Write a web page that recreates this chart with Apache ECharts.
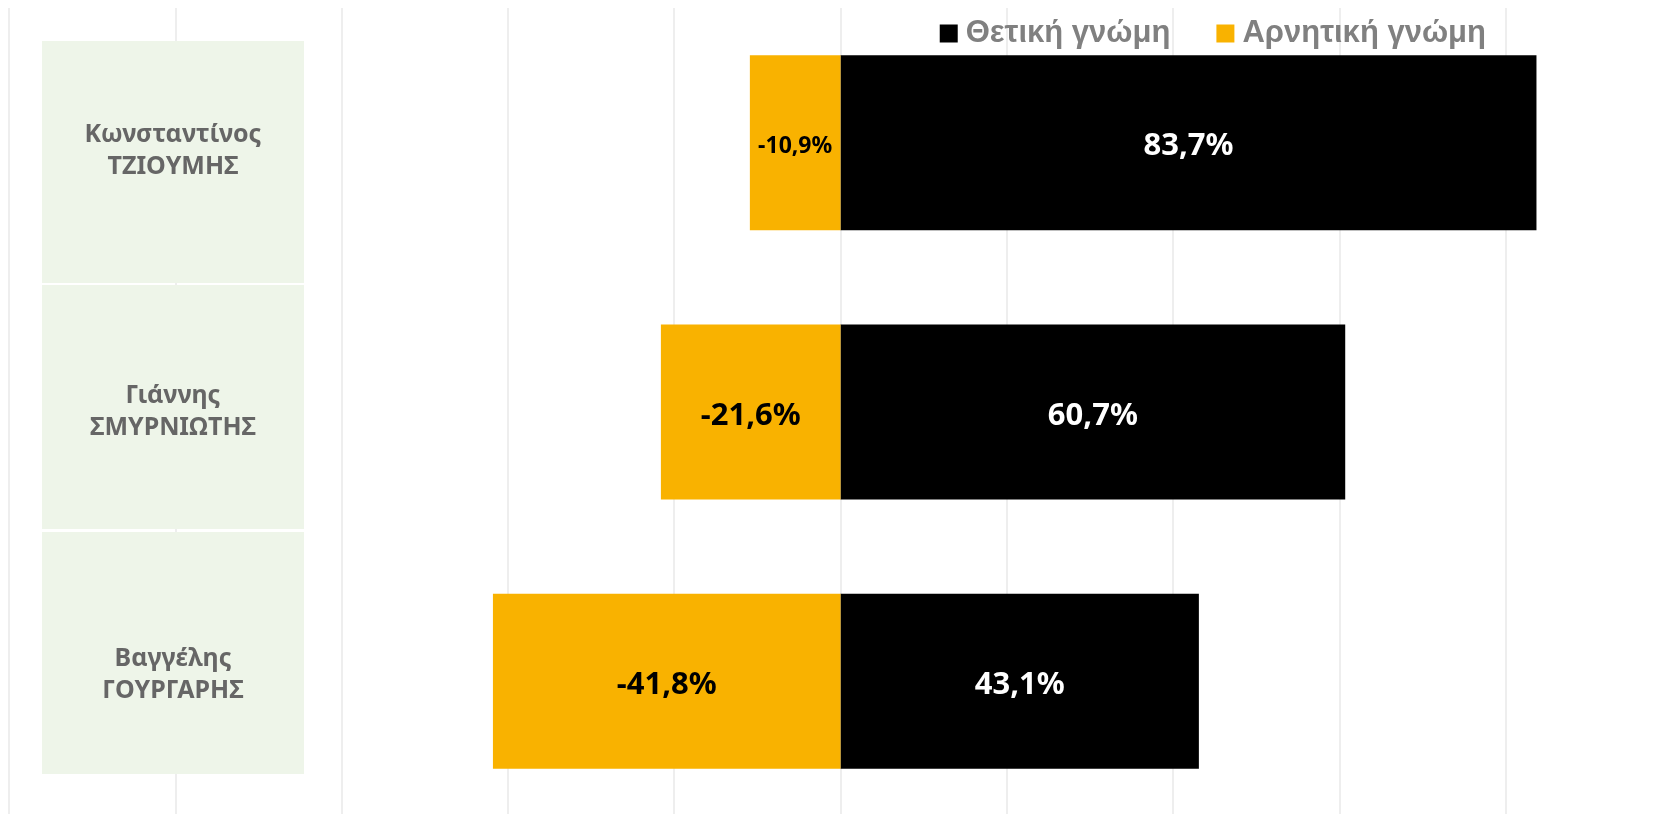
<!DOCTYPE html>
<html>
<head>
<meta charset="utf-8">
<script src="https://cdn.jsdelivr.net/npm/echarts@6/dist/echarts.min.js"></script>
<style>
  html, body { margin: 0; padding: 0; background: #fff; }
  #chart { width: 1661px; height: 814px; }
</style>
</head>
<body>
<div id="chart"></div>
<script>
const candidates = ['Κωνσταντίνος\nΤΖΙΟΥΜΗΣ', 'Γιάννης\nΣΜΥΡΝΙΩΤΗΣ', 'Βαγγέλης\nΓΟΥΡΓΑΡΗΣ']
const positive = [83.7, 60.7, 43.1]
const negative = [-10.9, -21.6, -41.8]
const seriesNames = ['Θετική γνώμη', 'Αρνητική γνώμη']

const fmt = v => v.toFixed(1).replace('.', ',') + '%'

// name labels sit a little off the bar centre, as in the original
const nameLabel = (value, index) => {
  const lines = value.split('\n').map(s => '{t|' + s + '}').join('\n')
  if (index === 0) return '{top|}\n' + lines
  if (index === 2) return lines + '\n{bot|}'
  return lines
}

const chart = echarts.init(document.getElementById('chart'))

chart.setOption({
  animation: false,
  legend: {
    data: seriesNames,
    right: 170,
    top: 13,
    itemWidth: 18,
    itemHeight: 18,
    itemGap: 46,
    icon: 'rect',
    textStyle: {
      color: '#808080',
      fontFamily: 'Liberation Sans',
      fontWeight: 'bold',
      fontSize: 31,
      padding: [0, 0, 0, 3]
    }
  },
  graphic: [
    { type: 'rect', z: 1, shape: { x: 42, y: 41, width: 262, height: 242 }, style: { fill: '#EEF5E9' } },
    { type: 'rect', z: 1, shape: { x: 42, y: 285, width: 262, height: 244 }, style: { fill: '#EEF5E9' } },
    { type: 'rect', z: 1, shape: { x: 42, y: 532, width: 262, height: 242 }, style: { fill: '#EEF5E9' } }
  ],
  grid: {
    left: 9,
    width: 1663,
    top: 8,
    height: 808,
    outerBoundsMode: 'none'
  },
  xAxis: {
    type: 'value',
    min: -100,
    max: 100,
    interval: 20,
    axisLabel: { show: false },
    axisLine: { show: false },
    axisTick: { show: false },
    splitLine: { lineStyle: { color: '#E8E8E8', width: 1.5 } }
  },
  yAxis: {
    type: 'category',
    inverse: true,
    data: candidates,
    z: 10,
    axisLine: { show: false },
    axisTick: { show: false },
    axisLabel: {
      margin: -164,
      align: 'center',
      formatter: nameLabel,
      rich: {
        t: {
          color: '#666666',
          fontFamily: 'Noto Sans',
          fontWeight: 'bold',
          fontSize: 25,
          lineHeight: 32,
          align: 'center'
        },
        top: { lineHeight: 16, fontSize: 1 },
        bot: { lineHeight: 12, fontSize: 1 }
      }
    }
  },
  series: [
    {
      name: seriesNames[0],
      type: 'bar',
      stack: 'opinion',
      barWidth: '65%',
      data: positive,
      itemStyle: { color: '#000000' },
      label: {
        show: true,
        position: 'inside',
        offset: [0, 4],
        color: '#ffffff',
        fontFamily: 'Noto Sans',
        fontWeight: 'bold',
        fontSize: 31,
        formatter: p => fmt(p.value)
      }
    },
    {
      name: seriesNames[1],
      type: 'bar',
      stack: 'opinion',
      barWidth: '65%',
      data: negative,
      itemStyle: { color: '#F9B200' },
      label: {
        show: true,
        position: 'inside',
        offset: [0, 4],
        color: '#000000',
        fontFamily: 'Noto Sans',
        fontWeight: 'bold',
        fontSize: 31,
        formatter: p => Math.abs(p.value) < 15 ? '{s|' + fmt(p.value) + '}' : fmt(p.value),
        rich: {
          s: { fontSize: 23, fontWeight: 'bold', fontFamily: 'Noto Sans', color: '#000000' }
        }
      }
    }
  ]
})
</script>
</body>
</html>
